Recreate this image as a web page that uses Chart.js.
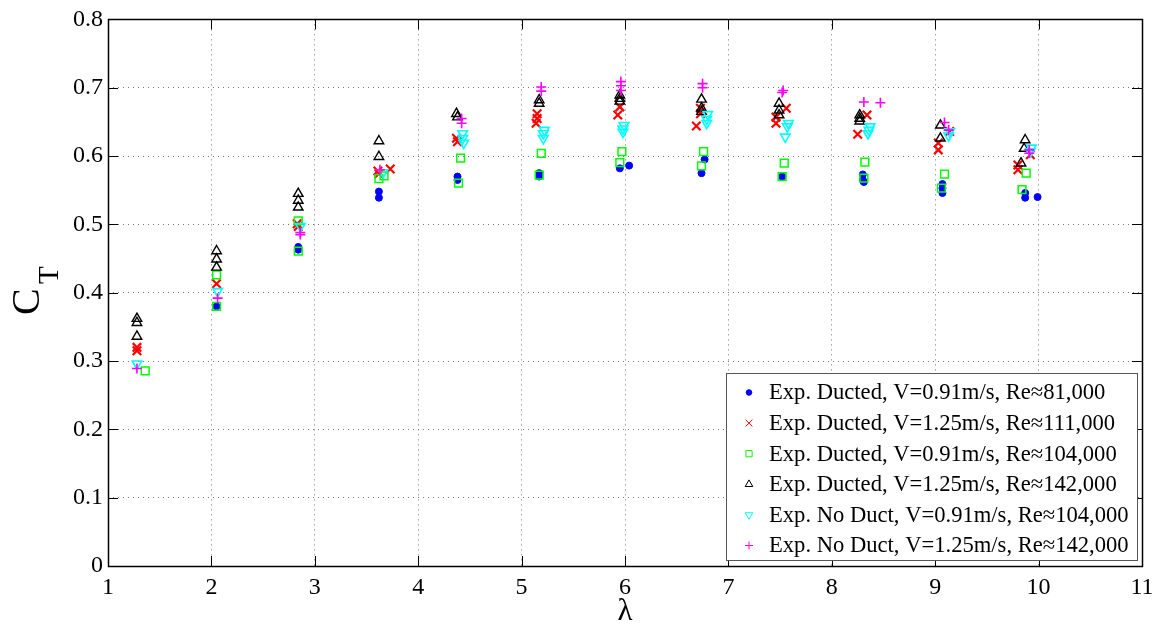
<!DOCTYPE html>
<html>
<head>
<meta charset="utf-8">
<script src="https://cdn.jsdelivr.net/npm/chart.js"></script>
<style>
  html, body { margin: 0; padding: 0; background: #fff; }
  canvas { display: block; }
</style>
</head>
<body>
<canvas id="chart" width="1165" height="635" style="width:1165px;height:635px"></canvas>
<script>
// tick labels
const xTickLabels = ["1", "2", "3", "4", "5", "6", "7", "8", "9", "10", "11"];
const yTickLabels = ["0", "0.1", "0.2", "0.3", "0.4", "0.5", "0.6", "0.7", "0.8"];

const seriesNames = [
  "Exp. Ducted, V=0.91m/s, Re\u224881,000",
  "Exp. Ducted, V=1.25m/s, Re\u2248111,000",
  "Exp. Ducted, V=0.91m/s, Re\u2248104,000",
  "Exp. Ducted, V=1.25m/s, Re\u2248142,000",
  "Exp. No Duct, V=0.91m/s, Re\u2248104,000",
  "Exp. No Duct, V=1.25m/s, Re\u2248142,000",
];

// Ducted, V=0.91 m/s, Re~81,000 (blue dots)
const lamDuct081 = [2.05, 2.84, 2.84, 3.62, 3.62, 4.38, 4.38, 5.17, 5.17, 5.95, 6.04, 6.77, 6.74, 7.52, 8.30, 8.30, 8.31, 9.07, 9.07, 9.07, 9.87, 9.87, 9.99];
const ctDuct081 = [0.380, 0.467, 0.463, 0.548, 0.539, 0.570, 0.565, 0.575, 0.570, 0.582, 0.586, 0.595, 0.575, 0.570, 0.573, 0.565, 0.562, 0.559, 0.553, 0.546, 0.546, 0.539, 0.540];

// Ducted, V=1.25 m/s, Re~111,000 (red x)
const lamDuct111 = [1.28, 1.28, 2.05, 2.83, 2.84, 3.61, 3.62, 3.73, 4.37, 4.38, 5.15, 5.15, 5.14, 5.95, 5.93, 6.73, 6.73, 6.69, 7.56, 7.46, 7.46, 8.34, 8.25, 9.03, 9.03, 9.14, 9.92, 9.80, 9.80];
const ctDuct111 = [0.320, 0.315, 0.413, 0.501, 0.497, 0.578, 0.574, 0.581, 0.626, 0.621, 0.662, 0.655, 0.648, 0.672, 0.660, 0.670, 0.662, 0.644, 0.670, 0.657, 0.648, 0.660, 0.632, 0.619, 0.609, 0.636, 0.602, 0.587, 0.580];

// Ducted, V=0.91 m/s, Re~104,000 (green squares)
const lamDuct104 = [1.36, 2.05, 2.05, 2.84, 2.84, 3.62, 3.67, 4.41, 4.39, 5.19, 5.17, 5.97, 5.95, 6.76, 6.74, 7.54, 7.52, 8.32, 8.31, 9.09, 9.06, 9.88, 9.84];
const ctDuct104 = [0.2855, 0.426, 0.380, 0.505, 0.461, 0.567, 0.571, 0.597, 0.5605, 0.604, 0.572, 0.6065, 0.5905, 0.6065, 0.5857, 0.5895, 0.570, 0.591, 0.5677, 0.5735, 0.553, 0.575, 0.551];

// Ducted, V=1.25 m/s, Re~142,000 (black triangles)
const lamDuct142 = [1.28, 1.28, 1.28, 2.05, 2.05, 2.05, 2.84, 2.84, 2.84, 3.62, 3.62, 4.37, 4.38, 5.17, 5.17, 5.95, 5.95, 5.95, 6.74, 6.74, 6.74, 7.49, 7.49, 7.49, 8.27, 8.27, 8.27, 9.05, 9.05, 9.87, 9.86, 9.83];
const ctDuct142 = [0.362, 0.356, 0.336, 0.461, 0.449, 0.437, 0.545, 0.535, 0.525, 0.622, 0.599, 0.662, 0.657, 0.682, 0.677, 0.689, 0.684, 0.680, 0.683, 0.670, 0.665, 0.677, 0.667, 0.660, 0.660, 0.655, 0.651, 0.645, 0.626, 0.6235, 0.611, 0.5895];

// No duct, V=0.91 m/s, Re~104,000 (cyan inverted triangles)
const lamFree104 = [1.28, 2.06, 2.86, 3.66, 4.43, 4.43, 4.44, 5.22, 5.21, 5.21, 5.99, 5.98, 5.98, 6.80, 6.79, 6.79, 7.58, 7.57, 7.55, 8.37, 8.36, 8.35, 9.14, 9.13, 9.93, 9.92];
const ctFree104 = [0.296, 0.402, 0.497, 0.576, 0.633, 0.626, 0.619, 0.638, 0.633, 0.626, 0.645, 0.640, 0.635, 0.661, 0.654, 0.648, 0.648, 0.643, 0.628, 0.643, 0.638, 0.633, 0.636, 0.630, 0.612, 0.6065];

// No duct, V=1.25 m/s, Re~142,000 (magenta +)
const lamFree142 = [1.28, 2.06, 2.86, 2.86, 3.63, 4.42, 4.42, 5.19, 5.19, 5.96, 5.96, 5.96, 6.75, 6.75, 7.53, 7.52, 8.31, 8.47, 9.09, 9.13, 9.91, 9.91];
const ctFree142 = [0.289, 0.392, 0.488, 0.485, 0.580, 0.655, 0.648, 0.701, 0.695, 0.709, 0.703, 0.696, 0.706, 0.700, 0.696, 0.693, 0.679, 0.678, 0.649, 0.638, 0.609, 0.604];

function pts(xs, ys) {
  return xs.map((x, i) => ({ x: x, y: ys[i] }));
}

const SERIF = "'Liberation Serif', 'Times New Roman', serif";

const styles = [
  { color: "#0000ff", pointStyle: "circle", radius: 3.5, borderWidth: 1, fill: true, rotation: 0 },
  { color: "#ff0000", pointStyle: "crossRot", radius: 6, borderWidth: 2.2, fill: false, rotation: 0 },
  { color: "#00ff00", pointStyle: "rect", radius: 5.5, borderWidth: 1.5, fill: false, rotation: 0 },
  { color: "#000000", pointStyle: "triangle", radius: 5.5, borderWidth: 1.4, fill: false, rotation: 0 },
  { color: "#00ffff", pointStyle: "triangle", radius: 5.5, borderWidth: 1.6, fill: false, rotation: 180 },
  { color: "#ff00ff", pointStyle: "cross", radius: 5, borderWidth: 1.6, fill: false, rotation: 0 },
];

const seriesData = [
  pts(lamDuct081, ctDuct081),
  pts(lamDuct111, ctDuct111),
  pts(lamDuct104, ctDuct104),
  pts(lamDuct142, ctDuct142),
  pts(lamFree104, ctFree104),
  pts(lamFree142, ctFree142),
];

const datasets = seriesData.map((d, i) => ({
  label: seriesNames[i],
  data: d,
  showLine: false,
  order: 6 - i,
  pointStyle: styles[i].pointStyle,
  pointRadius: styles[i].radius,
  pointRotation: styles[i].rotation,
  pointBorderWidth: styles[i].borderWidth,
  pointBorderColor: styles[i].color,
  pointBackgroundColor: styles[i].fill ? styles[i].color : "rgba(0,0,0,0)",
  borderColor: styles[i].color,
  backgroundColor: styles[i].fill ? styles[i].color : "rgba(0,0,0,0)",
}));

// box, inward ticks, y title with subscript, legend
const matlabFrame = {
  id: "matlabFrame",
  afterDraw(chart) {
    const ctx = chart.ctx;
    const a = chart.chartArea;
    const xs = chart.scales.x;
    const ys = chart.scales.y;
    const tl = 10;

    ctx.save();
    ctx.strokeStyle = "#000";
    ctx.lineWidth = 1;
    ctx.beginPath();
    xs.ticks.forEach((t) => {
      const px = Math.round(xs.getPixelForValue(t.value)) + 0.5;
      ctx.moveTo(px, a.bottom);
      ctx.lineTo(px, a.bottom - tl);
      ctx.moveTo(px, a.top);
      ctx.lineTo(px, a.top + tl);
    });
    ys.ticks.forEach((t) => {
      const py = Math.round(ys.getPixelForValue(t.value)) + 0.5;
      ctx.moveTo(a.left, py);
      ctx.lineTo(a.left + tl, py);
      ctx.moveTo(a.right, py);
      ctx.lineTo(a.right - tl, py);
    });
    ctx.stroke();
    ctx.lineWidth = 1.5;
    ctx.strokeRect(Math.round(a.left) + 0.5, Math.round(a.top) + 0.5, Math.round(a.right - a.left), Math.round(a.bottom - a.top));

    // y title: C with subscript T, rotated
    ctx.save();
    ctx.translate(0, 315);
    ctx.rotate(-Math.PI / 2);
    ctx.fillStyle = "#000";
    ctx.textBaseline = "alphabetic";
    ctx.textAlign = "left";
    ctx.font = "40px " + SERIF;
    ctx.fillText("C", 0, 39);
    ctx.font = "29px " + SERIF;
    ctx.fillText("T", 31, 58);
    ctx.restore();

    // legend
    const lw = 411, lh = 187;
    const lx = Math.round(a.right) - 416, ly = Math.round(a.bottom) - 193;
    ctx.fillStyle = "#fff";
    ctx.fillRect(lx, ly, lw, lh);
    ctx.strokeStyle = "#555";
    ctx.lineWidth = 1;
    ctx.strokeRect(lx + 0.5, ly + 0.5, lw, lh);
    ctx.font = "22.6px " + SERIF;
    ctx.textBaseline = "middle";
    ctx.textAlign = "left";
    chart.data.datasets.forEach((ds, i) => {
      const cy = ly + 19.5 + i * 30.6;
      const st = styles[i];
      ctx.save();
      ctx.strokeStyle = st.color;
      ctx.fillStyle = st.fill ? st.color : "rgba(0,0,0,0)";
      Chart.helpers.drawPoint(ctx, {
        pointStyle: st.pointStyle,
        radius: st.radius * 0.8,
        rotation: st.rotation,
        borderWidth: st.borderWidth,
      }, lx + 23, cy);
      ctx.restore();
      ctx.fillStyle = "#000";
      ctx.fillText(ds.label, lx + 43, cy + 1);
    });
    ctx.restore();
  },
};

const gridStyle = {
  color: "#777",
  lineWidth: 1,
  drawTicks: false,
  tickLength: 0,
};

new Chart(document.getElementById("chart"), {
  type: "scatter",
  data: { datasets: datasets },
  options: {
    responsive: false,
    animation: false,
    events: [],
    layout: { padding: { left: 0, top: 18, right: 23, bottom: 0 } },
    plugins: {
      legend: { display: false },
      tooltip: { enabled: false },
    },
    scales: {
      x: {
        type: "linear",
        min: 1,
        max: 11,
        grid: gridStyle,
        border: { display: false, dash: [1, 4] },
        ticks: {
          stepSize: 1,
          padding: 7,
          color: "#000",
          font: { family: SERIF, size: 24 },
          maxRotation: 0,
          callback: (v) => xTickLabels[Math.round(v) - 1],
        },
        title: {
          display: true,
          text: "\u03bb",
          color: "#000",
          font: { family: SERIF, size: 31 },
          padding: { top: 0, bottom: 5 },
        },
        afterFit: (s) => { s.height = 69; },
      },
      y: {
        type: "linear",
        min: 0,
        max: 0.8,
        grid: gridStyle,
        border: { display: false, dash: [1, 4] },
        ticks: {
          stepSize: 0.1,
          padding: 5,
          color: "#000",
          font: { family: SERIF, size: 24 },
          callback: (v) => yTickLabels[Math.round(v * 10)],
        },
        afterFit: (s) => { s.width = 108; },
      },
    },
  },
  plugins: [matlabFrame],
});
</script>
</body>
</html>
